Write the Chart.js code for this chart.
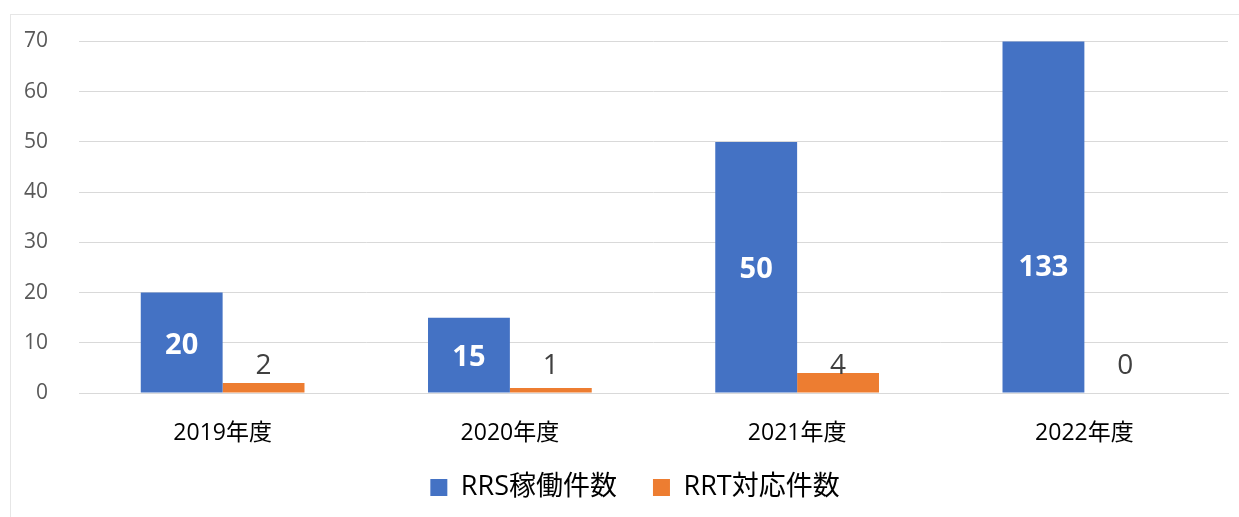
<!DOCTYPE html>
<html>
<head>
<meta charset="utf-8">
<script src="https://cdn.jsdelivr.net/npm/chart.js@4.4.0/dist/chart.umd.min.js"></script>
<style>
  body { margin: 0; background: #fff; }
  #frame { position: absolute; left: 10px; top: 14px; width: 1240px; height: 520px; border: 1px solid #e6e6e6; }
  #wrap { position: absolute; left: 0; top: 0; width: 1239px; height: 517px; }
</style>
</head>
<body>
<div id="frame"></div>
<div id="wrap"><canvas id="chart"></canvas></div>
<script>
const years = ['2019年度', '2020年度', '2021年度', '2022年度'];
const rrsCounts = [20, 15, 50, 133];
const rrtCounts = [2, 1, 4, 0];
const yTicks = [0, 10, 20, 30, 40, 50, 60, 70];

const FONT = '"Open Sans", "Noto Sans CJK JP", sans-serif';

// value labels: white bold inside the blue bars, grey on one line above the orange ones
const valueLabels = {
  id: 'valueLabels',
  afterDatasetsDraw(chart) {
    const ctx = chart.ctx;
    const yScale = chart.scales.y;
    ctx.save();
    ctx.textAlign = 'center';
    ctx.textBaseline = 'middle';
    chart.data.datasets.forEach((ds, di) => {
      const meta = chart.getDatasetMeta(di);
      meta.data.forEach((bar, i) => {
        const v = ds.data[i];
        if (di === 0) {
          ctx.font = 'bold 29px ' + FONT;
          ctx.fillStyle = '#ffffff';
          const top = v > yScale.max ? yScale.getPixelForValue(51) : bar.y;
          ctx.fillText(String(v), bar.x, (top + bar.base) / 2 + 3);
        } else {
          ctx.font = '28px ' + FONT;
          ctx.fillStyle = '#404040';
          ctx.fillText(String(v), bar.x, yScale.getPixelForValue(5.4));
        }
      });
    });
    ctx.restore();
  }
};

// legend items sit wide apart, but the legend box itself stays short
const legendHeight = {
  id: 'legendHeight',
  afterInit(chart) {
    const legend = chart.legend;
    const fit = legend.fit.bind(legend);
    legend.fit = function () { fit(); this.height = 64; };
  },
  afterLayout(chart) {
    chart.legend.left += 42;
    chart.legend.top -= 15;
  }
};

new Chart(document.getElementById('chart'), {
  type: 'bar',
  data: {
    labels: years,
    datasets: [
      { label: 'RRS稼働件数', data: rrsCounts, backgroundColor: '#4472C4', barPercentage: 1, categoryPercentage: 0.57 },
      { label: 'RRT対応件数', data: rrtCounts, backgroundColor: '#ED7D31', barPercentage: 1, categoryPercentage: 0.57 }
    ]
  },
  options: {
    responsive: true,
    maintainAspectRatio: false,
    animation: false,
    layout: { padding: { left: 0, right: 11, top: 34, bottom: 0 } },
    plugins: {
      tooltip: { enabled: false },
      legend: {
        position: 'bottom',
        labels: {
          font: { family: FONT, size: 27 },
          color: '#000000',
          boxWidth: 17,
          boxHeight: 17,
          padding: 36
        }
      }
    },
    scales: {
      x: {
        grid: { display: false, drawTicks: false },
        border: { display: true, color: '#d9d9d9', width: 1 },
        ticks: { font: { family: FONT, size: 23 }, color: '#000000', padding: 27 },
        afterFit(scale) { scale.height = 60; }
      },
      y: {
        min: 0,
        max: 70,
        afterBuildTicks(scale) { scale.ticks = yTicks.map(v => ({ value: v })); },
        grid: { color: '#d9d9d9', drawTicks: false },
        border: { display: false },
        ticks: { font: { family: FONT, size: 21, lineHeight: 1 }, color: '#595959', padding: 31 },
        afterFit(scale) { scale.width = 79; }
      }
    }
  },
  plugins: [valueLabels, legendHeight]
});
</script>
</body>
</html>
